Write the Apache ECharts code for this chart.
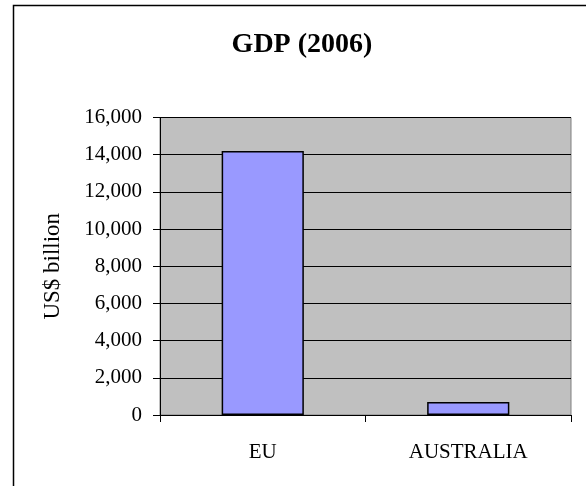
<!DOCTYPE html>
<html>
<head>
<meta charset="utf-8">
<script src="https://cdn.jsdelivr.net/npm/echarts@6/dist/echarts.min.js"></script>
<style>
html,body{margin:0;padding:0;background:#fff;}
#chart{width:586px;height:486px;}
</style>
</head>
<body>
<div id="chart"></div>
<script>
var categories = ['EU', 'AUSTRALIA'];
var gdpValues = [14200, 700];
var yTicks = { min: 0, max: 16000, interval: 2000 };
var titleText = 'GDP (2006)';
var yAxisName = 'US$ billion';

var serif = '"Liberation Serif", "Times New Roman", serif';
var chart = echarts.init(document.getElementById('chart'), null, {renderer: 'canvas'});
chart.setOption({
  animation: false,
  backgroundColor: '#ffffff',
  graphic: [{
    type: 'rect',
    shape: { x: 13.5, y: 5.5, width: 800, height: 800 },
    style: { fill: 'none', stroke: '#000', lineWidth: 1.5 },
    silent: true, z: -1
  }],
  title: {
    text: titleText,
    left: 297, top: 26, textAlign: 'center',
    textStyle: { fontFamily: serif, fontWeight: 'bold', fontSize: 28, color: '#000' }
  },
  grid: {
    left: 160, top: 117.5, right: 15, bottom: 71,
    show: true, backgroundColor: '#c0c0c0', borderColor: '#808080', borderWidth: 1
  },
  xAxis: {
    type: 'category',
    data: categories,
    boundaryGap: true,
    axisLine: { show: true, lineStyle: { color: '#000', width: 1 } },
    axisTick: { show: true, alignWithLabel: false, length: 7, lineStyle: { color: '#000' } },
    axisLabel: { fontFamily: serif, fontSize: 21, color: '#000', margin: 27 },
    splitLine: { show: false }
  },
  yAxis: {
    type: 'value',
    min: yTicks.min, max: yTicks.max, interval: yTicks.interval,
    name: yAxisName,
    nameLocation: 'middle',
    nameGap: 96,
    nameRotate: 90,
    nameTextStyle: { fontFamily: serif, fontSize: 23, color: '#000' },
    axisLine: { show: true, lineStyle: { color: '#000', width: 1 } },
    axisTick: { show: true, length: 7, lineStyle: { color: '#000' } },
    axisLabel: {
      fontFamily: serif, fontSize: 21, color: '#000', margin: 18,
      formatter: function (v) { return v.toLocaleString('en-US'); }
    },
    splitLine: { show: true, lineStyle: { color: '#000', width: 1 } }
  },
  series: [{
    type: 'bar',
    data: gdpValues,
    barWidth: '40%',
    itemStyle: { color: '#9999ff', borderColor: '#000', borderWidth: 1.5 }
  }]
});
</script>
</body>
</html>
